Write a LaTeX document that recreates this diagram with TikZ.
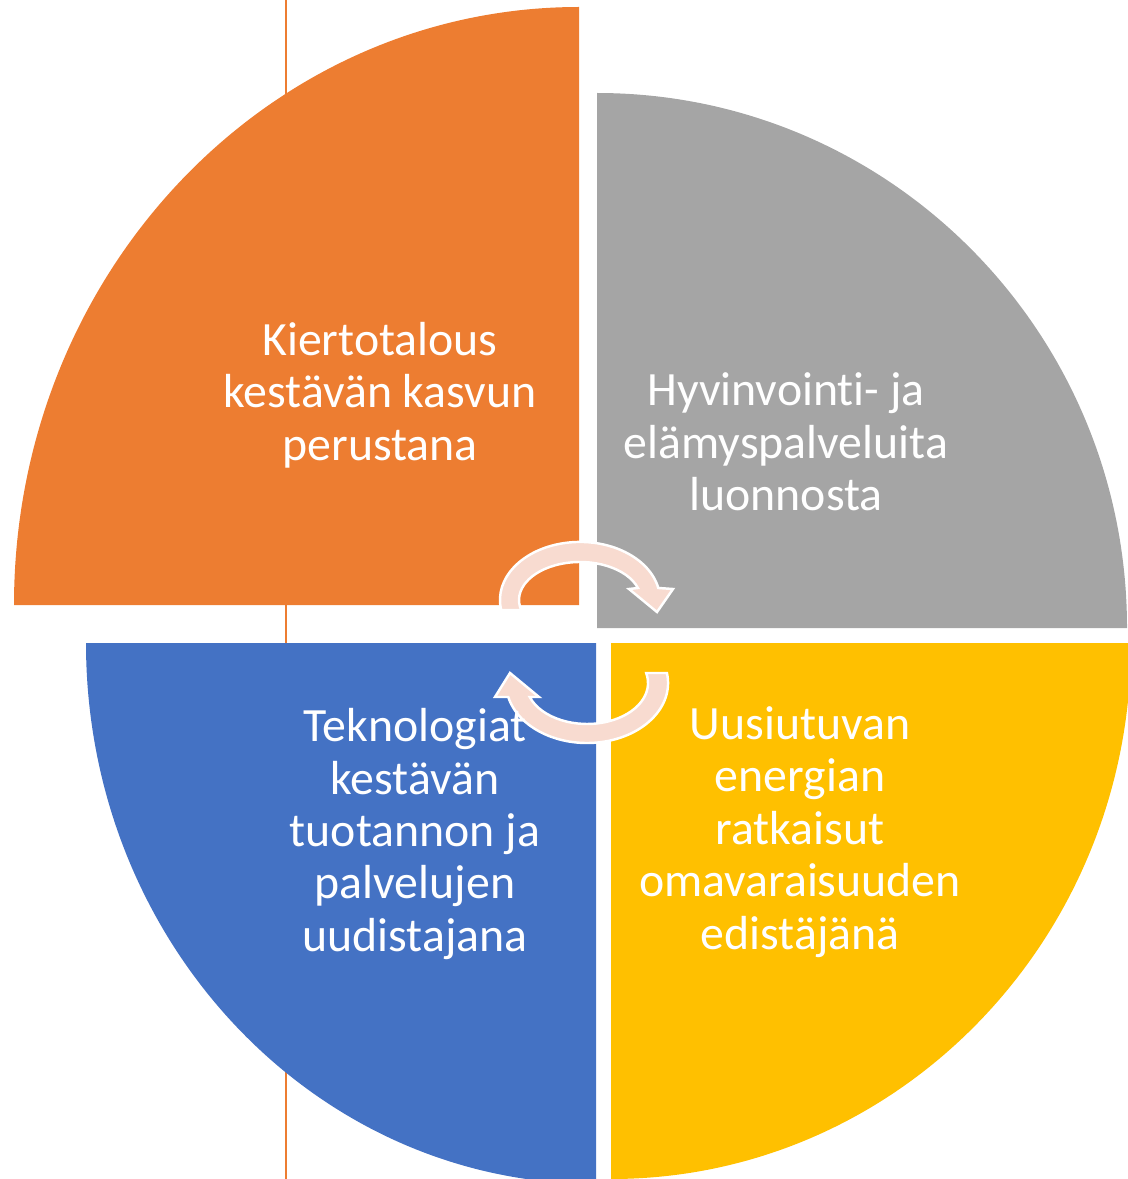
\documentclass[tikz,border=0pt]{standalone}
\usepackage{fontspec}
\setmainfont[Ligatures={NoCommon}]{Carlito}
\definecolor{qor}{HTML}{ED7D31}
\definecolor{qgr}{HTML}{A5A5A5}
\definecolor{qbl}{HTML}{4472C4}
\definecolor{qye}{HTML}{FFC000}
\definecolor{arw}{HTML}{F8DBD0}
\begin{document}
\begin{tikzpicture}[x=0.02cm,y=0.02cm,
  lbl/.style={text=white, align=center, inner sep=0pt, font=\fontsize{27.2}{29.8}\selectfont},
  cyc/.style={fill=arw, draw=white, line width=1.4pt, line join=miter}]
\useasboundingbox (0,0) rectangle (1127,-1179);
% background vertical line
\coordinate (ltop) at (286,0);
\coordinate (lbot) at (286,-1179);
\draw[qor, line width=1.7pt] (ltop) -- (lbot);
% quadrants
\fill[qor] (579,-605) -- (14,-605) arc[start angle=180, end angle=90, x radius=565, y radius=598] -- cycle;
\fill[qgr] (597,-628) -- (1127,-628) arc[start angle=0, end angle=90, x radius=530, y radius=535] -- cycle;
\fill[qbl] (596,-643) -- (86,-643) arc[start angle=180, end angle=270, x radius=510, y radius=541] -- cycle;
\fill[qye] (611,-643) -- (1131,-643) arc[start angle=0, end angle=-90, x radius=520, y radius=536] -- cycle;
% circular arrows
\coordinate (c1) at (580,-600);
\coordinate (c2) at (587,-683);
\draw[cyc] (501.2,-610) arc[start angle=190, end angle=11.9, x radius=80, y radius=58]
  -- (673,-589) -- (657,-612) -- (629,-589) -- (637.9,-588)
  arc[start angle=18.4, end angle=195.3, x radius=61, y radius=38] -- cycle;
\draw[cyc] (666.9,-673) arc[start angle=9.6, end angle=-166.5, x radius=81, y radius=60]
  -- (495,-697) -- (510,-673) -- (539,-697) -- (529.7,-697)
  arc[start angle=-160, end angle=14.1, x radius=61, y radius=41] -- cycle;
% labels
\node[lbl] (t1) at (380,-395) {Kiertotalous\\kestävän kasvun\\perustana};
\node[lbl] (t2) at (786,-442) {Hyvinvointi- ja\\elämyspalveluita\\luonnosta};
\node[lbl] (t3) at (415,-834) {Teknologiat\\kestävän\\tuotannon ja\\palvelujen\\uudistajana};
\node[lbl] (t4) at (800,-832) {Uusiutuvan\\energian\\ratkaisut\\omavaraisuuden\\edistäjänä};
\end{tikzpicture}
\end{document}
